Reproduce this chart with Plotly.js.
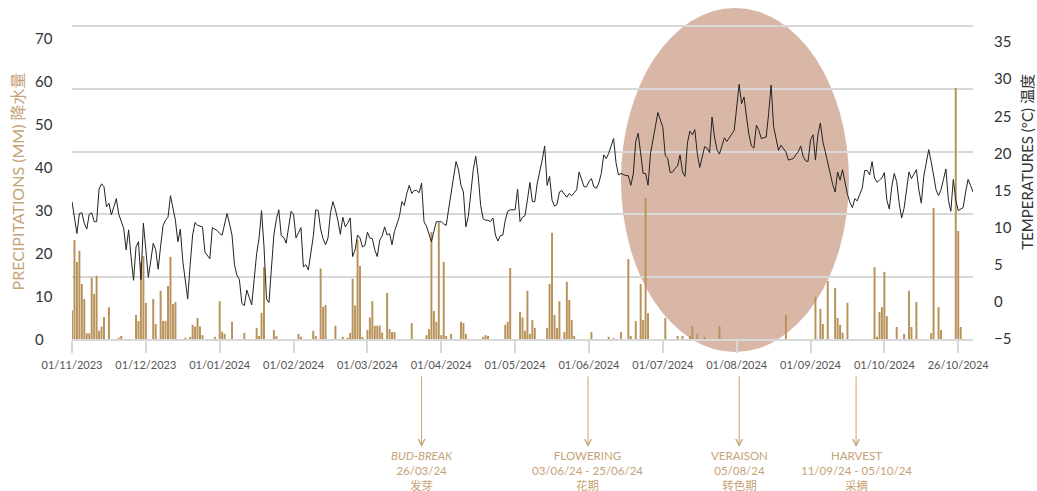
<!DOCTYPE html>
<html><head><meta charset="utf-8">
<script src="https://cdn.plot.ly/plotly-3.0.1.min.js"></script>
<style>html,body{margin:0;padding:0;background:#fff}#chart{width:1037px;height:491px}</style>
</head><body><div id="chart"></div>
<script>
// ---- data ----
const tickLabels = ['01/11/2023','01/12/2023','01/01/2024','01/02/2024','01/03/2024','01/04/2024','01/05/2024','01/06/2024','01/07/2024','01/08/2024','01/09/2024','01/10/2024','26/10/2024'];
const tickDays = [0,30,60,90,120,150,180,210,240,270,300,330,360];

// daily mean temperature (°C), day 0 = 01/11/2023
const temperature = [
13.5,11.3,9.2,11.9,12.0,10.6,9.8,11.8,12.0,10.8,
10.8,15.2,15.9,15.5,12.8,13.3,11.7,12.8,13.9,11.8,
10.8,9.9,7.0,9.7,6.0,2.9,7.4,8.1,3.0,10.6,
7.0,3.3,5.5,7.9,7.0,4.4,7.5,10.3,11.0,11.4,
14.3,12.5,11.0,8.1,9.8,5.5,3.0,0.4,5.0,9.0,
10.7,10.3,10.2,10.1,6.7,6.2,5.8,10.0,9.8,9.6,
9.2,9.0,10.5,11.9,10.5,9.0,5.0,3.6,3.0,-0.2,
-0.5,1.6,0.6,-0.4,3.0,6.5,8.6,12.3,7.4,0.4,
-0.1,5.0,9.0,11.1,12.4,8.9,8.7,7.9,10.0,12.2,
11.8,8.6,9.3,10.0,4.7,5.0,4.3,6.5,8.8,12.4,
12.3,9.8,8.5,7.7,8.6,12.0,13.5,12.4,11.0,9.1,
11.4,10.1,10.6,11.3,6.1,7.0,9.0,8.6,7.4,7.6,
9.4,8.6,8.5,7.0,6.1,8.3,8.9,10.1,9.0,9.2,
7.7,9.5,10.4,11.5,13.5,13.0,14.6,15.7,14.6,15.0,
15.0,14.7,16.0,10.8,10.2,9.2,8.1,9.5,10.8,10.8,
10.8,10.5,10.3,12.5,14.6,16.9,18.9,17.8,15.7,14.8,
10.1,11.5,15.0,17.8,19.6,17.0,13.0,11.2,11.0,11.0,
10.8,11.3,9.0,8.2,8.9,9.0,11.0,12.2,12.4,12.4,
12.4,15.2,10.8,11.4,11.6,13.7,16.1,13.5,13.5,16.0,
17.5,19.1,21.0,15.7,16.9,13.7,12.9,13.1,14.8,15.0,
14.5,14.1,14.6,14.3,14.7,15.1,17.5,16.6,15.5,15.5,
16.2,16.6,15.5,15.3,16.0,17.3,19.8,19.3,20.0,21.0,
22.0,18.7,17.1,17.3,17.1,17.0,17.0,15.7,17.2,21.6,
22.7,20.0,17.3,17.3,15.7,20.0,22.0,23.6,25.5,24.5,
23.5,19.7,19.3,17.4,17.5,18.0,18.3,19.8,17.5,16.9,
21.4,23.0,22.5,23.2,20.0,18.1,19.5,20.9,20.7,20.1,
24.9,22.2,20.5,19.9,21.0,22.1,21.6,22.2,22.6,23.1,
26.7,29.3,26.7,27.6,24.9,22.5,21.0,20.7,23.8,23.1,
22.0,22.1,22.2,25.4,29.2,23.6,22.0,20.4,21.1,20.6,
20.2,19.1,19.2,19.3,19.8,20.2,21.0,19.6,19.0,18.9,
21.8,22.5,19.1,22.5,24.1,21.6,20.2,18.5,17.3,15.8,
14.8,17.5,16.4,17.8,16.0,14.5,13.4,12.7,13.9,13.6,
14.5,15.3,17.7,17.7,17.1,18.9,16.7,16.1,16.4,16.7,
17.4,13.7,12.5,15.5,17.3,16.2,13.3,11.3,12.6,15.0,
17.5,16.6,17.2,17.8,15.1,13.3,16.9,18.8,20.5,18.9,
17.0,15.1,14.3,15.1,16.5,17.9,13.7,12.2,16.5,13.7,
12.3,12.5,12.7,14.8,16.5,15.7,14.8
];

// rainy days (day index) and precipitation (mm)
const rainDay = [0,1,2,3,4,5,6,7,8,9,10,11,12,13,15,19,20,26,27,28,29,30,33,34,36,37,38,39,40,41,42,46,48,49,50,51,52,53,58,
60,61,62,65,70,75,76,77,78,82,83,92,93,98,99,101,102,103,107,110,112,113,114,115,116,117,118,
120,121,122,123,124,125,126,128,129,130,131,138,144,145,146,147,148,149,150,151,152,154,158,159,160,167,168,169,176,177,178,
182,183,184,185,186,187,188,193,194,195,196,197,198,200,201,202,203,204,211,218,220,223,226,227,229,231,232,233,234,241,
246,248,251,252,254,257,263,290,302,304,305,307,310,311,312,313,315,326,327,328,329,330,331,335,338,340,341,343,349,350,352,353,359,360,361];
const rainMm = [6.7,23.0,17.9,20.5,12.8,9.3,1.3,1.3,14.3,10.5,14.7,1.9,2.9,5.1,7.4,0.3,0.7,5.6,4.2,17.8,19.3,8.4,9.3,3.5,11.2,4.2,4.2,12.3,19.1,8.1,8.6,0.3,0.5,3.3,2.9,4.9,2.9,0.9,0.5,
8.8,1.7,1.2,4.0,1.4,2.6,0.7,6.1,16.7,2.1,0.7,1.2,0.5,1.9,0.7,16.4,7.5,7.9,3.1,0.5,0.3,1.4,14.0,7.8,23.0,17.0,0.5,
2.1,5.0,8.8,3.1,3.1,3.1,1.5,10.7,2.3,1.6,1.6,3.7,0.9,2.3,24.9,6.5,4.0,27.1,0.9,17.9,0.7,1.2,4.0,3.7,1.2,0.5,0.9,0.7,3.3,4.0,16.5,
6.3,5.0,1.9,11.2,1.2,4.4,2.6,2.6,12.8,24.7,5.6,2.6,8.8,1.6,13.3,9.1,4.4,0.7,1.6,0.5,0.2,1.6,18.6,0.7,4.2,12.8,4.4,32.8,6.0,4.9,
0.7,0.7,0.7,3.0,1.2,0.5,3.0,5.6,9.8,7.0,3.5,13.5,11.9,4.9,3.3,1.5,8.4,16.7,0.5,6.3,7.4,15.6,5.3,2.8,1.2,11.2,2.8,8.6,1.4,30.5,7.4,2.1,58.4,25.1,2.8];

const leftTicks = [0,10,20,30,40,50,60,70];
const rightTicks = [-5,0,5,10,15,20,25,30,35];

const phaseNames = ['<i>BUD-BREAK</i>','FLOWERING','VERAISON','HARVEST'];
const phaseDates = ['26/03/24','03/06/24 - 25/06/24','05/08/24','11/09/24 - 05/10/24'];
const phaseChinese = ['发芽','花期','转色期','采摘'];
const phaseDay = [142, 209.6, 271, 318.5];
const veraisonSpan = [223, 315.6];

// ---- chart ----
const FONT = 'Lato, "Noto Sans CJK SC", sans-serif';
const TAN = '#c5a275';
const GRID = '#d8d8d8';
const leftRange = [0, 72.56];
const rightRange = [-5, 37.02];
const gridVals = [0,1,2,3,4,5].map(i => leftRange[0] + i * (leftRange[1] - leftRange[0]) / 5);
const days = temperature.map((_, i) => i);

const traces = [
  {type:'bar', x: rainDay, y: rainMm, yaxis:'y', marker:{color:'#b8925a'}, width:0.8, hoverinfo:'skip'},
  {type:'scatter', mode:'lines', x: days, y: temperature, yaxis:'y2', line:{color:'#222', width:1}, hoverinfo:'skip'}
];

const annotations = [];
leftTicks.forEach(v => annotations.push({xref:'paper', yref:'y', x:-0.0433, y:v, xanchor:'left', yanchor:'middle', text:String(v), showarrow:false, font:{family:FONT, size:15, color:'#333'}}));
annotations.push({xref:'paper', yref:'paper', x:-0.061, y:0.505, textangle:-90, xanchor:'center', yanchor:'middle', showarrow:false, text:'PRECIPITATIONS (MM) 降水量', font:{family:FONT, size:16, color:TAN}});
annotations.push({xref:'paper', yref:'paper', x:1.0595, y:0.567, textangle:-90, xanchor:'center', yanchor:'middle', showarrow:false, text:'TEMPERATURES (°C) 温度', font:{family:FONT, size:15, color:'#333'}});
phaseDay.forEach((d, i) => {
  annotations.push({xref:'x', yref:'paper', x:d, y:-0.346, ax:0, ay:-72, text:'', showarrow:true, arrowhead:5, arrowsize:1.3, arrowwidth:1, arrowcolor:TAN, standoff:0});
  annotations.push({xref:'x', yref:'paper', x:d, y:-0.423, xanchor:'center', yanchor:'middle', showarrow:false,
    text: phaseNames[i] + '<br>' + phaseDates[i] + '<br>' + phaseChinese[i], font:{family:FONT, size:11.5, color:TAN}});
});

const layout = {
  width:1037, height:491,
  margin:{l:72, r:64, t:27, b:152},
  paper_bgcolor:'#fff', plot_bgcolor:'rgba(0,0,0,0)',
  showlegend:false, bargap:0.15,
  font:{family:FONT},
  xaxis:{range:[0,366], tickmode:'array', tickvals:tickDays, ticktext:tickLabels, showline:true, mirror:true, linecolor:GRID, linewidth:2,
    ticks:'outside', ticklen:12, tickwidth:2, tickcolor:GRID, showgrid:false, zeroline:false,
    tickfont:{family:FONT, size:11, color:'#555'}, ticklabelstandoff:3},
  yaxis:{range:leftRange, tickmode:'array', tickvals:leftTicks, showticklabels:false, showgrid:false, zeroline:false,
    minor:{tickmode:'array', tickvals:gridVals, showgrid:true, gridcolor:GRID, gridwidth:2, ticks:''}},
  yaxis2:{overlaying:'y', side:'right', range:rightRange, tickmode:'array', tickvals:rightTicks, showgrid:false, zeroline:false,
    tickfont:{family:FONT, size:15, color:'#333'}, ticklabelstandoff:20},
  shapes:[{type:'circle', xref:'x', yref:'paper', x0:veraisonSpan[0], x1:veraisonSpan[1], y0:-0.042, y1:1.061,
    fillcolor:'rgb(217,183,166)', line:{width:0}, layer:'below'}],
  annotations: annotations
};

Plotly.newPlot('chart', traces, layout, {staticPlot:true, displayModeBar:false});
</script>
</body></html>
